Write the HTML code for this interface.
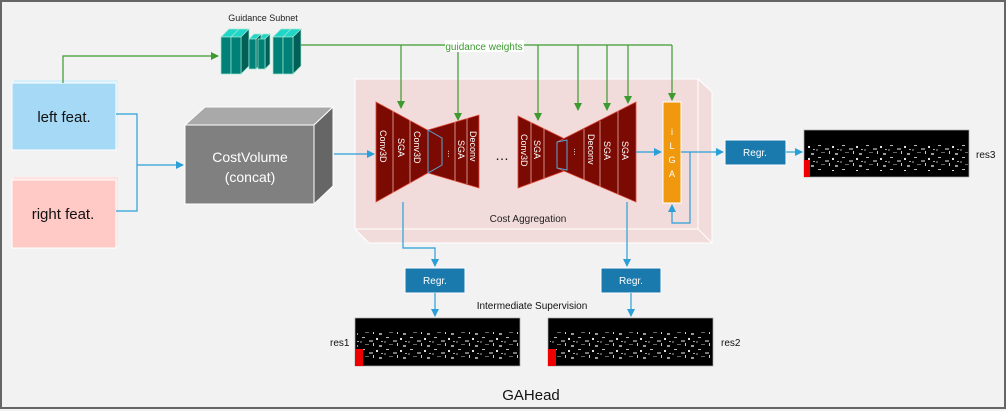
<!DOCTYPE html>
<html><head><meta charset="utf-8"><style>
html,body{margin:0;padding:0;background:#f2f2f2}
svg{display:block}
text{font-family:"Liberation Sans",sans-serif}
</style></head><body>
<svg width="1006" height="411" viewBox="0 0 1006 411" xmlns="http://www.w3.org/2000/svg">
<defs>
<marker id="ab" markerWidth="8" markerHeight="8" refX="7" refY="4" orient="auto" markerUnits="userSpaceOnUse"><path d="M0,0 L8,4 L0,8 z" fill="#2a9fd8"/></marker>
<marker id="ag" markerWidth="8" markerHeight="8" refX="7" refY="4" orient="auto" markerUnits="userSpaceOnUse"><path d="M0,0 L8,4 L0,8 z" fill="#3c9a2e"/></marker>
<pattern id="noise" width="24" height="12" patternUnits="userSpaceOnUse">
<rect width="24" height="12" fill="#000"/>
<rect x="2" y="1" width="3" height="1" fill="#bbb"/><rect x="9" y="4" width="4" height="2" fill="#777"/>
<rect x="16" y="2" width="2" height="2" fill="#ddd"/><rect x="5" y="8" width="4" height="1" fill="#666"/>
<rect x="19" y="9" width="3" height="2" fill="#999"/><rect x="13" y="7" width="1" height="3" fill="#ccc"/>
<rect x="0" y="5" width="2" height="2" fill="#555"/><rect x="21" y="5" width="2" height="1" fill="#aaa"/>
</pattern>
</defs>
<rect x="1" y="1" width="1004" height="407" fill="#f2f2f2" stroke="#666" stroke-width="2"/>

<!-- left / right feat -->
<rect x="14" y="80" width="104" height="68" fill="#d6effb"/>
<rect x="12" y="83" width="104" height="67" fill="#a6d9f5" stroke="#fff" stroke-width="1"/>
<text x="64" y="122" font-size="15" text-anchor="middle" fill="#111">left feat.</text>
<rect x="14" y="177" width="104" height="68" fill="#ffe2df"/>
<rect x="12" y="180" width="104" height="68" fill="#ffc9c5" stroke="#fff" stroke-width="1"/>
<text x="63" y="219" font-size="15" text-anchor="middle" fill="#111">right feat.</text>

<!-- cost volume -->
<polygon points="185,125 205,107 333,107 314,125" fill="#a9a9a9" stroke="#fff"/>
<polygon points="314,125 333,107 333,186 314,204" fill="#666" stroke="#fff"/>
<rect x="185" y="125" width="129" height="79" fill="#808080" stroke="#fff"/>
<text x="250" y="162" font-size="14" text-anchor="middle" fill="#fff">CostVolume</text>
<text x="250" y="182" font-size="14" text-anchor="middle" fill="#fff">(concat)</text>

<!-- blue connectors left -->
<polyline points="116,114 137,114 137,211 116,211" fill="none" stroke="#2a9fd8" stroke-width="1.2"/>
<line x1="137" y1="165" x2="183" y2="165" stroke="#2a9fd8" stroke-width="1.2" marker-end="url(#ab)"/>

<!-- cost aggregation box -->
<polygon points="355,79 698,79 712,92 712,243 369,243 355,229" fill="#f2dcdb" stroke="#fff"/>
<rect x="355" y="79" width="343" height="150" fill="#f2dcdb" stroke="#fff"/>
<line x1="698" y1="229" x2="712" y2="243" stroke="#fff"/>
<text x="528" y="222" font-size="10" text-anchor="middle" fill="#222">Cost Aggregation</text>
<line x1="334" y1="154" x2="374" y2="154" stroke="#2a9fd8" stroke-width="1.2" marker-end="url(#ab)"/>

<!-- hourglass 1 -->
<polygon points="376,102 442,138 442,165 376,202" fill="#7b0a02" stroke="#e04a3a" stroke-width="0.8"/>
<polygon points="428,130 479,115 479,188 428,173" fill="#7b0a02" stroke="#e04a3a" stroke-width="0.8"/>
<polygon points="428,130 442,138 442,165 428,173" fill="#7b0a02" stroke="#5aa7d8" stroke-width="1"/>
<line x1="393" y1="111" x2="393" y2="193" stroke="#e8b0a8" stroke-width="0.8"/>
<line x1="410" y1="120" x2="410" y2="184" stroke="#e8b0a8" stroke-width="0.8"/>
<line x1="455" y1="122" x2="455" y2="181" stroke="#e8b0a8" stroke-width="0.8"/>
<line x1="467" y1="118" x2="467" y2="184" stroke="#e8b0a8" stroke-width="0.8"/>
<g font-size="9" fill="#fff">
<text transform="translate(380,130) rotate(90)">Conv3D</text>
<text transform="translate(398,138) rotate(90)">SGA</text>
<text transform="translate(414,131) rotate(90)">Conv3D</text>
<text transform="translate(458,140) rotate(90)">SGA</text>
<text transform="translate(470,131) rotate(90)">Deconv</text>
<text transform="translate(448,150) rotate(90)">...</text>
</g>
<text x="502" y="160" font-size="14" text-anchor="middle" fill="#111">…</text>

<!-- hourglass 2 -->
<polygon points="518,116 567,140 567,170 518,188" fill="#7b0a02" stroke="#e04a3a" stroke-width="0.8"/>
<polygon points="557,142 636,102 636,202 557,168" fill="#7b0a02" stroke="#e04a3a" stroke-width="0.8"/>
<polygon points="557,142 567,140 567,170 557,168" fill="#7b0a02" stroke="#5aa7d8" stroke-width="1"/>
<line x1="531" y1="122" x2="531" y2="183" stroke="#e8b0a8" stroke-width="0.8"/>
<line x1="544" y1="128" x2="544" y2="178" stroke="#e8b0a8" stroke-width="0.8"/>
<line x1="584" y1="129" x2="584" y2="180" stroke="#e8b0a8" stroke-width="0.8"/>
<line x1="600" y1="121" x2="600" y2="187" stroke="#e8b0a8" stroke-width="0.8"/>
<line x1="618" y1="111" x2="618" y2="194" stroke="#e8b0a8" stroke-width="0.8"/>
<g font-size="9" fill="#fff">
<text transform="translate(521,134) rotate(90)">Conv3D</text>
<text transform="translate(534,140) rotate(90)">SGA</text>
<text transform="translate(574,148) rotate(90)">...</text>
<text transform="translate(588,134) rotate(90)">Deconv</text>
<text transform="translate(604,141) rotate(90)">SGA</text>
<text transform="translate(622,141) rotate(90)">SGA</text>
</g>

<!-- iLGA -->
<rect x="663" y="102" width="18" height="101" fill="#f0990f" stroke="#fff"/>
<g font-size="9" fill="#fff" text-anchor="middle">
<text x="672" y="135">i</text><text x="672" y="149">L</text><text x="672" y="163">G</text><text x="672" y="177">A</text>
</g>
<line x1="636" y1="152" x2="661" y2="152" stroke="#2a9fd8" stroke-width="1.2" marker-end="url(#ab)"/>
<line x1="681" y1="152" x2="723" y2="152" stroke="#2a9fd8" stroke-width="1.2" marker-end="url(#ab)"/>
<polyline points="690,152 690,223 672,223 672,205" fill="none" stroke="#2a9fd8" stroke-width="1.2" marker-end="url(#ab)"/>

<!-- guidance subnet -->
<text x="263" y="21" font-size="9" text-anchor="middle" fill="#222">Guidance Subnet</text>
<g stroke="#9fe8d0" stroke-width="0.7">
<polygon points="221,37 229,29 239,29 231,37" fill="#20d6c8"/><polygon points="231,37 239,29 249,29 241,37" fill="#20d6c8"/>
<polygon points="241,37 249,29 249,66 241,74" fill="#006058"/>
<rect x="221" y="37" width="10" height="37" fill="#008077"/><rect x="231" y="37" width="10" height="37" fill="#008077"/>
<polygon points="249,39 254,34 261,34 256,39" fill="#20d6c8"/><polygon points="258,39 263,34 270,34 265,39" fill="#20d6c8"/>
<polygon points="256,39 261,34 261,64 256,69" fill="#006058"/><polygon points="265,39 270,34 270,64 265,69" fill="#006058"/>
<rect x="249" y="39" width="7" height="30" fill="#008077"/><rect x="258" y="39" width="7" height="30" fill="#008077"/>
<polygon points="273,37 281,29 291,29 283,37" fill="#20d6c8"/><polygon points="283,37 291,29 301,29 293,37" fill="#20d6c8"/>
<polygon points="293,37 301,29 301,66 293,74" fill="#006058"/>
<rect x="273" y="37" width="10" height="37" fill="#008077"/><rect x="283" y="37" width="10" height="37" fill="#008077"/>
</g>

<!-- green lines -->
<polyline points="63,83 63,56 218,56" fill="none" stroke="#3c9a2e" stroke-width="1.2" marker-end="url(#ag)"/>
<line x1="301" y1="45" x2="672" y2="45" stroke="#3c9a2e" stroke-width="1.2"/>
<g stroke="#3c9a2e" stroke-width="1.2">
<line x1="401" y1="45" x2="401" y2="108" marker-end="url(#ag)"/>
<line x1="458" y1="45" x2="458" y2="120" marker-end="url(#ag)"/>
<line x1="538" y1="45" x2="538" y2="120" marker-end="url(#ag)"/>
<line x1="578" y1="45" x2="578" y2="110" marker-end="url(#ag)"/>
<line x1="607" y1="45" x2="607" y2="110" marker-end="url(#ag)"/>
<line x1="628" y1="45" x2="628" y2="103" marker-end="url(#ag)"/>
<line x1="672" y1="45" x2="672" y2="100" marker-end="url(#ag)"/>
</g>
<rect x="445" y="40" width="79" height="12" fill="#fff"/>
<text x="484" y="50" font-size="10" text-anchor="middle" fill="#3c9a2e">guidance weights</text>

<!-- regr -->
<g fill="#1a7aad" stroke="#fff" stroke-width="1">
<rect x="725" y="140" width="61" height="25"/>
<rect x="405" y="268" width="60" height="25"/>
<rect x="601" y="268" width="60" height="25"/>
</g>
<g font-size="10" fill="#fff" text-anchor="middle">
<text x="755" y="156">Regr.</text><text x="435" y="284">Regr.</text><text x="631" y="284">Regr.</text>
</g>
<polyline points="403,202 403,248 435,248 435,266" fill="none" stroke="#2a9fd8" stroke-width="1.2" marker-end="url(#ab)"/>
<line x1="435" y1="293" x2="435" y2="316" stroke="#2a9fd8" stroke-width="1.2" marker-end="url(#ab)"/>
<line x1="627" y1="202" x2="627" y2="266" stroke="#2a9fd8" stroke-width="1.2" marker-end="url(#ab)"/>
<line x1="631" y1="293" x2="631" y2="316" stroke="#2a9fd8" stroke-width="1.2" marker-end="url(#ab)"/>
<line x1="786" y1="152" x2="802" y2="152" stroke="#2a9fd8" stroke-width="1.2" marker-end="url(#ab)"/>

<!-- result images -->
<g>
<rect x="804" y="130" width="165" height="47" fill="#000" stroke="#aaa" stroke-width="0.7"/>
<rect x="806" y="143" width="162" height="28" fill="url(#noise)"/>
<rect x="804" y="160" width="6" height="17" fill="#e00"/>
<rect x="355" y="318" width="165" height="48" fill="#000" stroke="#aaa" stroke-width="0.7"/>
<rect x="357" y="332" width="162" height="28" fill="url(#noise)"/>
<rect x="355" y="349" width="8" height="17" fill="#e00"/>
<rect x="548" y="318" width="165" height="48" fill="#000" stroke="#aaa" stroke-width="0.7"/>
<rect x="550" y="332" width="162" height="28" fill="url(#noise)"/>
<rect x="548" y="349" width="8" height="17" fill="#e00"/>
</g>
<g font-size="10" fill="#111">
<text x="976" y="158">res3</text><text x="330" y="346">res1</text><text x="721" y="346">res2</text>
</g>
<text x="532" y="309" font-size="10" text-anchor="middle" fill="#111">Intermediate Supervision</text>
<text x="531" y="400" font-size="15" text-anchor="middle" fill="#111">GAHead</text>
</svg>
</body></html>
